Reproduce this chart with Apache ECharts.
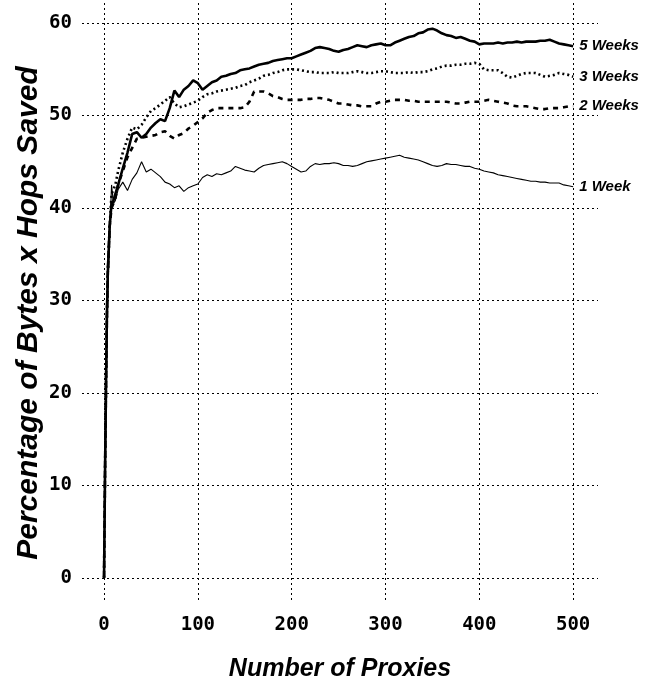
<!DOCTYPE html>
<html>
<head>
<meta charset="utf-8">
<script src="https://cdn.jsdelivr.net/npm/echarts@6/dist/echarts.min.js"></script>
<style>html,body{margin:0;padding:0;background:#fff}#c{width:656px;height:690px}</style>
</head>
<body>
<div id="c"></div>
<script>
const proxies = [0,1,2,3,4,6,8,10,12,15,20,25,30,35,40,45,50,55,60,65,70,75,80,85,90,95,100,105,110,115,120,125,130,135,140,145,150,155,160,165,170,175,180,185,190,195,200,205,210,215,220,225,230,235,240,245,250,255,260,265,270,275,280,285,290,295,300,305,310,315,320,325,330,335,340,345,350,355,360,365,370,375,380,385,390,395,400,405,410,415,420,425,430,435,440,445,450,455,460,465,470,475,480,485,490,495,500];

const week5 = [0,11,20,28,33,38,40.5,40.8,41.5,42.5,44.3,46.0,48.0,48.2,47.6,48.0,48.7,49.2,49.6,49.4,50.8,52.7,52.0,52.8,53.2,53.8,53.5,52.8,53.2,53.6,53.8,54.2,54.3,54.5,54.6,54.9,55.0,55.1,55.3,55.5,55.6,55.7,55.9,56.0,56.1,56.2,56.2,56.4,56.6,56.8,57.0,57.3,57.4,57.3,57.2,57.0,56.9,57.1,57.2,57.4,57.6,57.5,57.4,57.6,57.7,57.8,57.6,57.6,57.9,58.1,58.3,58.5,58.6,58.9,59.0,59.3,59.4,59.2,58.9,58.7,58.6,58.4,58.5,58.3,58.1,58.0,57.7,57.8,57.8,57.8,57.9,57.8,57.9,57.9,58.0,57.9,58.0,58.0,58.0,58.1,58.1,58.2,58.0,57.8,57.7,57.6,57.5];

const week3 = [0,11,20,28,33,38,41.5,41.5,42.5,44.0,46.0,47.5,48.7,48.5,49.0,49.8,50.5,50.8,51.2,51.6,52.0,51.3,50.9,51.0,51.2,51.4,51.6,52.0,52.3,52.4,52.6,52.7,52.8,52.9,53.0,53.2,53.3,53.6,53.8,54.0,54.3,54.4,54.6,54.7,54.9,55.0,55.0,55.0,54.9,54.8,54.7,54.7,54.6,54.6,54.6,54.7,54.6,54.6,54.6,54.7,54.8,54.7,54.6,54.6,54.7,54.8,54.8,54.7,54.6,54.6,54.6,54.7,54.6,54.7,54.7,54.8,55.0,55.1,55.3,55.4,55.4,55.5,55.5,55.6,55.6,55.7,55.6,55.0,54.9,54.9,54.9,54.6,54.2,54.1,54.3,54.5,54.6,54.6,54.6,54.4,54.2,54.3,54.4,54.6,54.5,54.4,54.2];

const week2 = [0,11,20,28,33,38,40.0,40.5,41.0,42.5,44.0,45.5,46.5,47.5,47.6,47.7,47.8,47.9,48.2,48.3,47.8,47.5,47.9,48.1,48.6,48.9,49.3,49.7,50.3,50.6,50.8,50.8,50.8,50.8,50.8,50.8,50.9,51.5,52.6,52.6,52.6,52.4,52.1,52.0,51.8,51.7,51.7,51.7,51.7,51.8,51.8,51.9,51.9,51.8,51.7,51.5,51.3,51.3,51.2,51.1,51.1,51.0,51.0,51.0,51.3,51.5,51.5,51.6,51.7,51.7,51.7,51.6,51.6,51.5,51.5,51.5,51.5,51.5,51.5,51.5,51.4,51.3,51.3,51.4,51.5,51.5,51.5,51.6,51.7,51.6,51.5,51.4,51.3,51.1,51.0,51.0,51.0,50.9,50.8,50.7,50.7,50.8,50.8,50.8,50.9,51.0,51.0];

const week1 = [0,9,17,25,31,37,42.5,40.5,40.8,42.0,42.8,41.9,43.1,43.8,45.0,43.9,44.2,43.8,43.4,42.8,42.6,42.2,42.4,41.8,42.2,42.4,42.6,43.3,43.6,43.4,43.7,43.6,43.8,44.0,44.5,44.3,44.1,44.0,43.9,44.3,44.6,44.7,44.8,44.9,45.0,44.8,44.5,44.2,43.9,44.0,44.5,44.8,44.7,44.8,44.8,44.9,44.8,44.6,44.6,44.5,44.6,44.8,45.0,45.1,45.2,45.3,45.4,45.5,45.6,45.7,45.5,45.4,45.3,45.2,45.0,44.8,44.6,44.5,44.6,44.8,44.7,44.7,44.6,44.5,44.5,44.3,44.2,44.0,43.9,43.8,43.6,43.5,43.4,43.3,43.2,43.1,43.0,42.9,42.9,42.8,42.8,42.7,42.7,42.7,42.5,42.4,42.3];

const seriesNames = ['5 Weeks','3 Weeks','2 Weeks','1 Week'];
const xTicks = [0,100,200,300,400,500];
const yTicks = [0,10,20,30,40,50,60];
const xTitle = 'Number of Proxies';
const yTitle = 'Percentage of Bytes x Hops Saved';

function pairs(ys){ return proxies.map((x,i)=>[x, ys[i]]); }

const chart = echarts.init(document.getElementById('c'), null, {renderer:'canvas'});
const labelFont = {fontFamily:'Liberation Sans', fontWeight:'bold', fontStyle:'italic', fontSize:15, color:'#000'};
const gridStyle = {color:'#000', width:1, type:[2,3]};

function mk(name, ys, lineStyle){
  return {
    name, type:'line', data: pairs(ys), showSymbol:false, symbol:'none',
    lineStyle: Object.assign({color:'#000'}, lineStyle),
    endLabel:{show:true, formatter: name, distance:6, ...labelFont},
    z:3, animation:false
  };
}

chart.setOption({
  animation:false,
  backgroundColor:'#fff',
  grid:{left:82, right:58, top:0, bottom:90, containLabel:false},
  xAxis:{type:'value', min:-23.5, max:526.5,
    axisLine:{show:false}, axisTick:{show:false}, splitLine:{show:false},
    axisLabel:{customValues:xTicks, margin:16, fontFamily:'DejaVu Sans Mono', fontWeight:'bold', fontSize:19, color:'#000'}},
  yAxis:{type:'value', min:-2.4, max:62.5,
    axisLine:{show:false}, axisTick:{show:false}, splitLine:{show:false},
    axisLabel:{customValues:yTicks, margin:10, fontFamily:'DejaVu Sans Mono', fontWeight:'bold', fontSize:19, color:'#000'}},
  graphic:[
    {type:'text', x:340, y:669, style:{text:xTitle, font:'italic bold 25px "Liberation Sans"', fill:'#000', textAlign:'center', textVerticalAlign:'middle'}},
    {type:'text', x:29, y:313, rotation:Math.PI/2, style:{text:yTitle, font:'italic bold 30px "Liberation Sans"', fill:'#000', textAlign:'center', textVerticalAlign:'middle'}}
  ],
  series:[
    {type:'line', data:[], z:1, silent:true,
      markLine:{silent:true, symbol:['none','none'], animation:false,
        label:{show:false}, lineStyle:gridStyle,
        data: xTicks.map(v=>({xAxis:v})).concat(yTicks.map(v=>({yAxis:v})))}},
    mk(seriesNames[3], week1, {width:1.1, type:'solid'}),
    mk(seriesNames[2], week2, {width:2.6, type:[5,5]}),
    mk(seriesNames[1], week3, {width:2.6, type:[2,3]}),
    mk(seriesNames[0], week5, {width:2.6, type:'solid'})
  ]
});
</script>
</body>
</html>
